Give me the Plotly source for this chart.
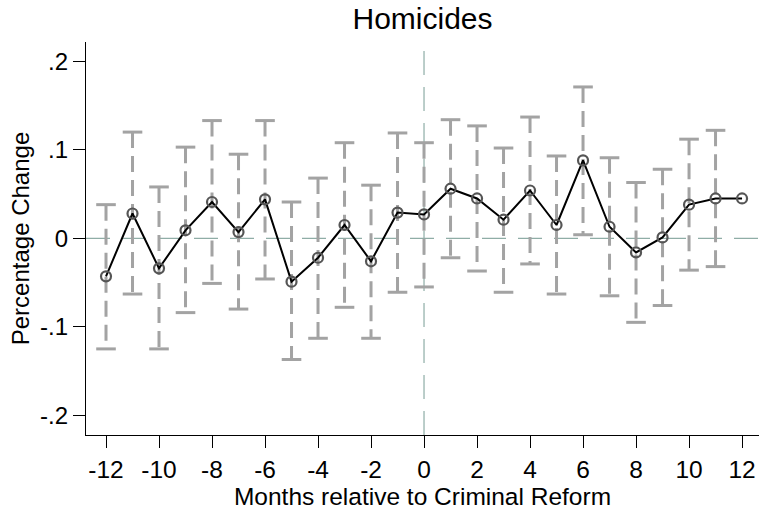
import plotly.graph_objects as go

months = list(range(-12, 13))
estimate = [-0.043, 0.028, -0.034, 0.009, 0.041, 0.007, 0.044, -0.049, -0.022, 0.015, -0.026, 0.029, 0.027,
            0.056, 0.045, 0.021, 0.054, 0.015, 0.088, 0.013, -0.016, 0.001, 0.038, 0.045, 0.045]
ci_upper = [0.038, 0.120, 0.058, 0.103, 0.133, 0.095, 0.133, 0.041, 0.068, 0.108, 0.060, 0.119, 0.108,
            0.134, 0.127, 0.102, 0.137, 0.093, 0.171, 0.091, 0.063, 0.078, 0.112, 0.122, None]
ci_lower = [-0.125, -0.063, -0.125, -0.084, -0.051, -0.080, -0.046, -0.137, -0.113, -0.078, -0.113, -0.061, -0.055,
            -0.022, -0.037, -0.061, -0.029, -0.063, 0.004, -0.065, -0.095, -0.076, -0.036, -0.032, None]
x_ticks = list(range(-12, 13, 2))
y_ticks = [-0.2, -0.1, 0, 0.1, 0.2]
y_tick_labels = ["-.2", "-.1", "0", ".1", ".2"]

BAR_GRAY = "#a3a3a3"
REF_COLOR = "#8fada6"
FONT = "Liberation Sans, Arial, Helvetica, sans-serif"

# dashed CI segments
seg_x, seg_y = [], []
cap_x, cap_y = [], []
for m, lo, hi in zip(months, ci_lower, ci_upper):
    if lo is None or hi is None:
        continue
    seg_x += [m, m, None]
    seg_y += [hi, lo, None]
    cap_x += [m, m]
    cap_y += [hi, lo]

fig = go.Figure()

fig.add_trace(go.Scatter(
    x=seg_x, y=seg_y, mode="lines",
    line=dict(color=BAR_GRAY, width=3, dash="16px,8px"),
    hoverinfo="skip", showlegend=False))

fig.add_trace(go.Scatter(
    x=cap_x, y=cap_y, mode="markers",
    marker=dict(symbol="line-ew", size=14, line=dict(color=BAR_GRAY, width=3)),
    hoverinfo="skip", showlegend=False))

fig.add_trace(go.Scatter(
    x=months, y=estimate, mode="lines+markers",
    line=dict(color="black", width=2),
    marker=dict(symbol="circle-open", size=10, color="#555555", line=dict(width=2.2, color="#555555")),
    showlegend=False))

fig.add_hline(y=0, line=dict(color=REF_COLOR, width=1.2, dash="24px,12px"), layer="below")
fig.add_vline(x=0, line=dict(color=REF_COLOR, width=1.2, dash="24px,12px"), layer="below")

fig.update_layout(
    width=759, height=510,
    margin=dict(l=86, r=0, t=42, b=75),
    paper_bgcolor="white", plot_bgcolor="white",
    font=dict(family=FONT, color="black"),
    title=dict(text="Homicides", x=0.5, xref="paper", y=1 - 18 / 510, yref="container",
               xanchor="center", yanchor="middle", font=dict(size=30, color="black")),
)

fig.update_xaxes(
    range=[-12.755, 12.64], tickvals=x_ticks, ticktext=[str(t) for t in x_ticks],
    showgrid=False, zeroline=False, showline=True, linecolor="black", linewidth=1.3,
    ticks="outside", ticklen=12, tickwidth=1.3, tickcolor="black",
    tickfont=dict(size=24.5), title=dict(text="Months relative to Criminal Reform", font=dict(size=24.5), standoff=0),
)
fig.update_yaxes(
    range=[-0.2223, 0.2218], tickvals=y_ticks, ticktext=y_tick_labels,
    showgrid=False, zeroline=False, showline=True, linecolor="black", linewidth=1.3,
    ticks="outside", ticklen=12, tickwidth=1.3, tickcolor="black",
    tickfont=dict(size=24), title=dict(text="Percentage Change", font=dict(size=24), standoff=3),
)

fig.write_html("out.html")
